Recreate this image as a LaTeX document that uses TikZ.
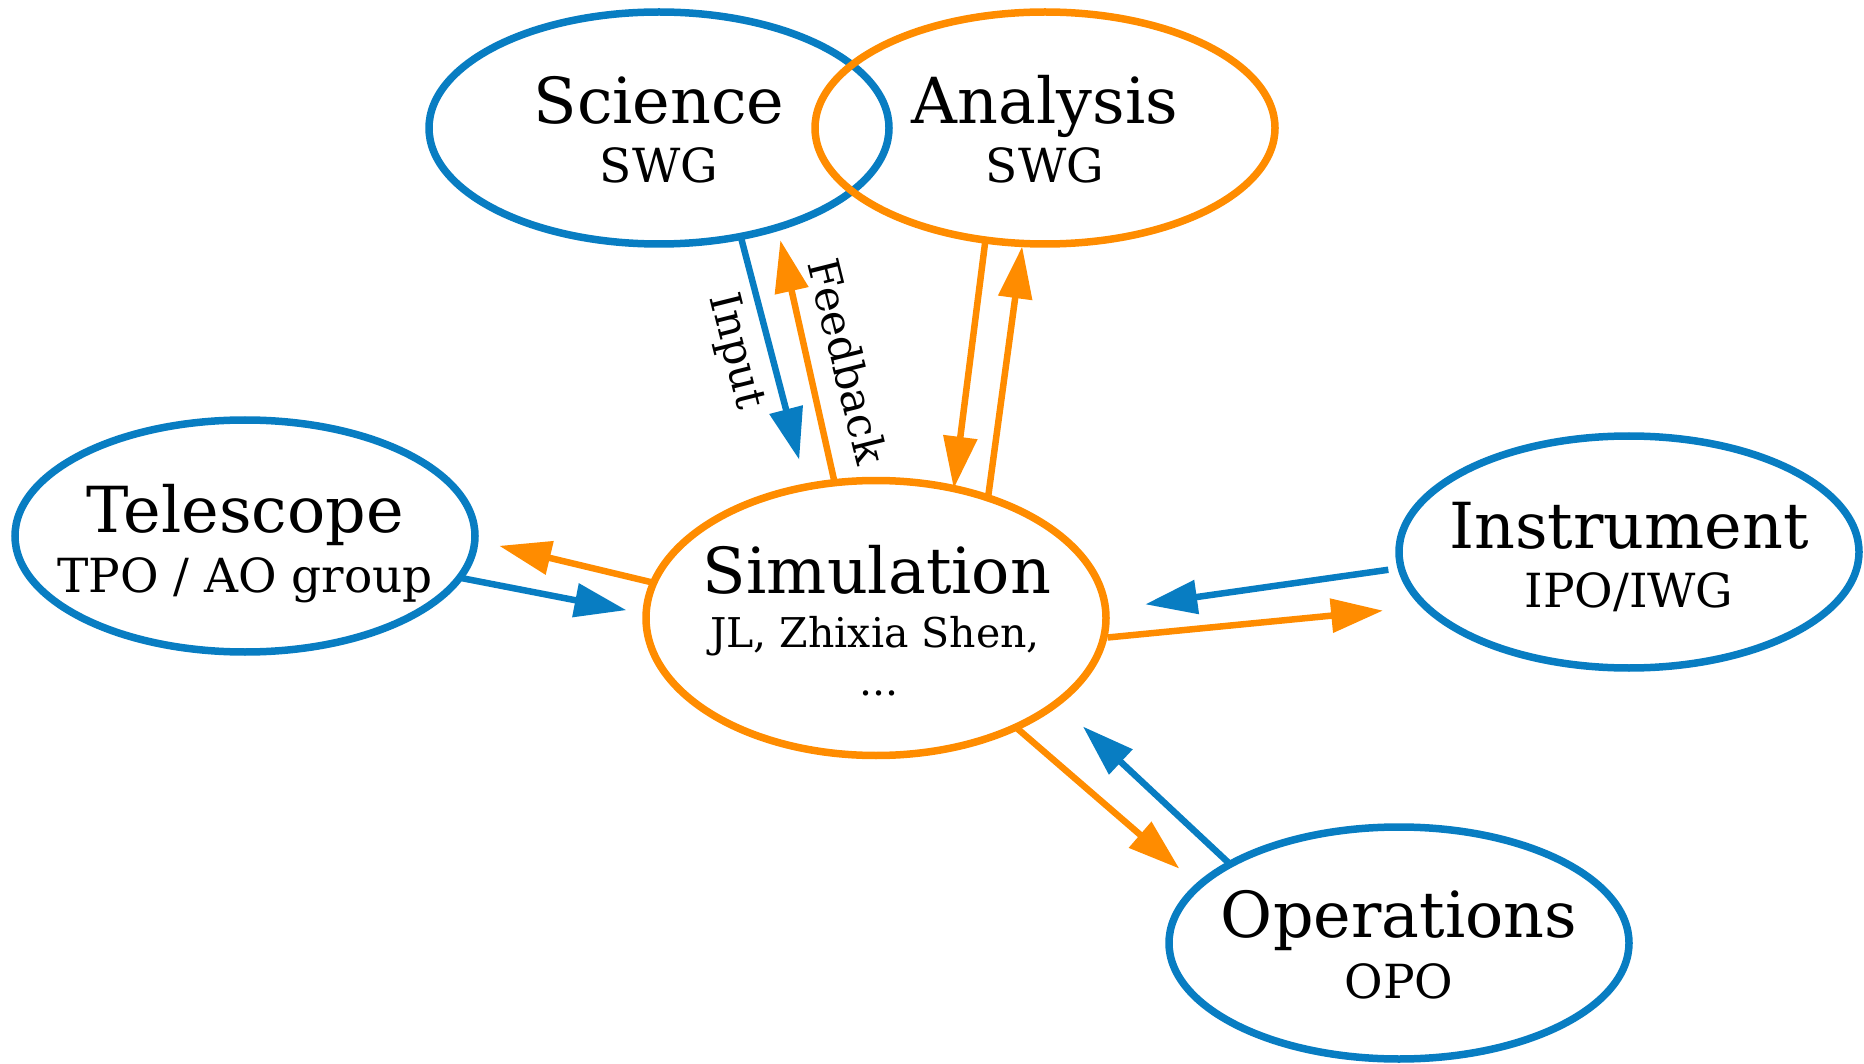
\documentclass[tikz,border=0pt]{standalone}
\usepackage{fontspec}
\setmainfont{DejaVu Serif}
\usetikzlibrary{arrows.meta,shapes.geometric}
\definecolor{cblue}{RGB}{8,125,194}
\definecolor{corange}{RGB}{255,140,0}
\begin{document}
\begin{tikzpicture}[x=1pt,y=-1pt,
  ell/.style={ellipse,draw,line width=7.5pt,minimum width=460pt,minimum height=232pt,inner sep=0pt,outer sep=0pt},
  bell/.style={ell,draw=cblue},
  oell/.style={ell,draw=corange},
  ttl/.style={anchor=base,inner sep=0pt,font=\fontsize{63.5}{70}\selectfont},
  sub/.style={anchor=base,inner sep=0pt,font=\fontsize{47}{52}\selectfont},
  ssub/.style={anchor=base,inner sep=0pt,font=\fontsize{41}{46}\selectfont},
  lbl/.style={inner sep=0pt,rotate=-76,font=\fontsize{43}{48}\selectfont},
  arr/.style={line width=6.5pt,-{Triangle[length=52pt,width=33pt]}},
  barr/.style={arr,draw=cblue,fill=cblue},
  oarr/.style={arr,draw=corange,fill=corange}]
\useasboundingbox (0,0) rectangle (1864,1064);
% ellipses
\node[bell] (sci) at (659,128) {};
\node[oell] (ana) at (1045,128) {};
\node[bell] (tel) at (245,536) {};
\node[oell,minimum height=275pt] (sim) at (876,618) {};
\node[bell] (ins) at (1629,552) {};
\node[bell] (ops) at (1399,943) {};
% texts
\node[ttl] (scit) at (659,124) {Science};
\node[sub] (scis) at (659,183) {SWG};
\node[ttl] (anat) at (1045,124) {Analysis};
\node[sub] (anas) at (1045,183) {SWG};
\node[ttl] (telt) at (245,532) {Telescope};
\node[sub] (tels) at (245,592) {TPO / AO group};
\node[ttl] (simt) at (877,593) {Simulation};
\node[ssub] (sims) at (875,647) {JL, Zhixia Shen,};
\node[ssub] (simd) at (879,695) {...};
\node[ttl] (inst) at (1629,548) {Instrument};
\node[sub] (inss) at (1629,607) {IPO/IWG};
\node[ttl] (opst) at (1399,937) {Operations};
\node[sub] (opss) at (1399,998) {OPO};
% connectors
\draw[barr,shorten >=28pt] (sci.-53.6) -- (sim.118.3);
\draw[oarr,shorten >=13pt] (sim.107.7) -- (sci.-40.1);
\draw[oarr] (ana.-118.6) -- (sim.59.5);
\draw[oarr,shorten >=3pt] (sim.47.2) -- (ana.-101.7);
\draw[oarr,shorten >=25pt] (sim.171.2) -- (tel.-1.5);
\draw[barr,shorten >=20pt] (tel.-11) -- (sim.179.5);
\draw[barr,shorten <=13pt,shorten >=40pt] (ins.-176.5) -- (sim.2.6);
\draw[oarr,shorten <=4pt,shorten >=43pt] (sim.-5.7) -- (ins.-165.8);
\draw[oarr,shorten >=26pt] (sim.-38) -- (ops.164.1);
\draw[barr,shorten >=35pt] (ops.155) -- (sim.-25.9);
% edge labels
\node[lbl] (inl) at (735,352) {Input};
\node[lbl] (fbl) at (848,361) {Feedback};
\end{tikzpicture}
\end{document}
